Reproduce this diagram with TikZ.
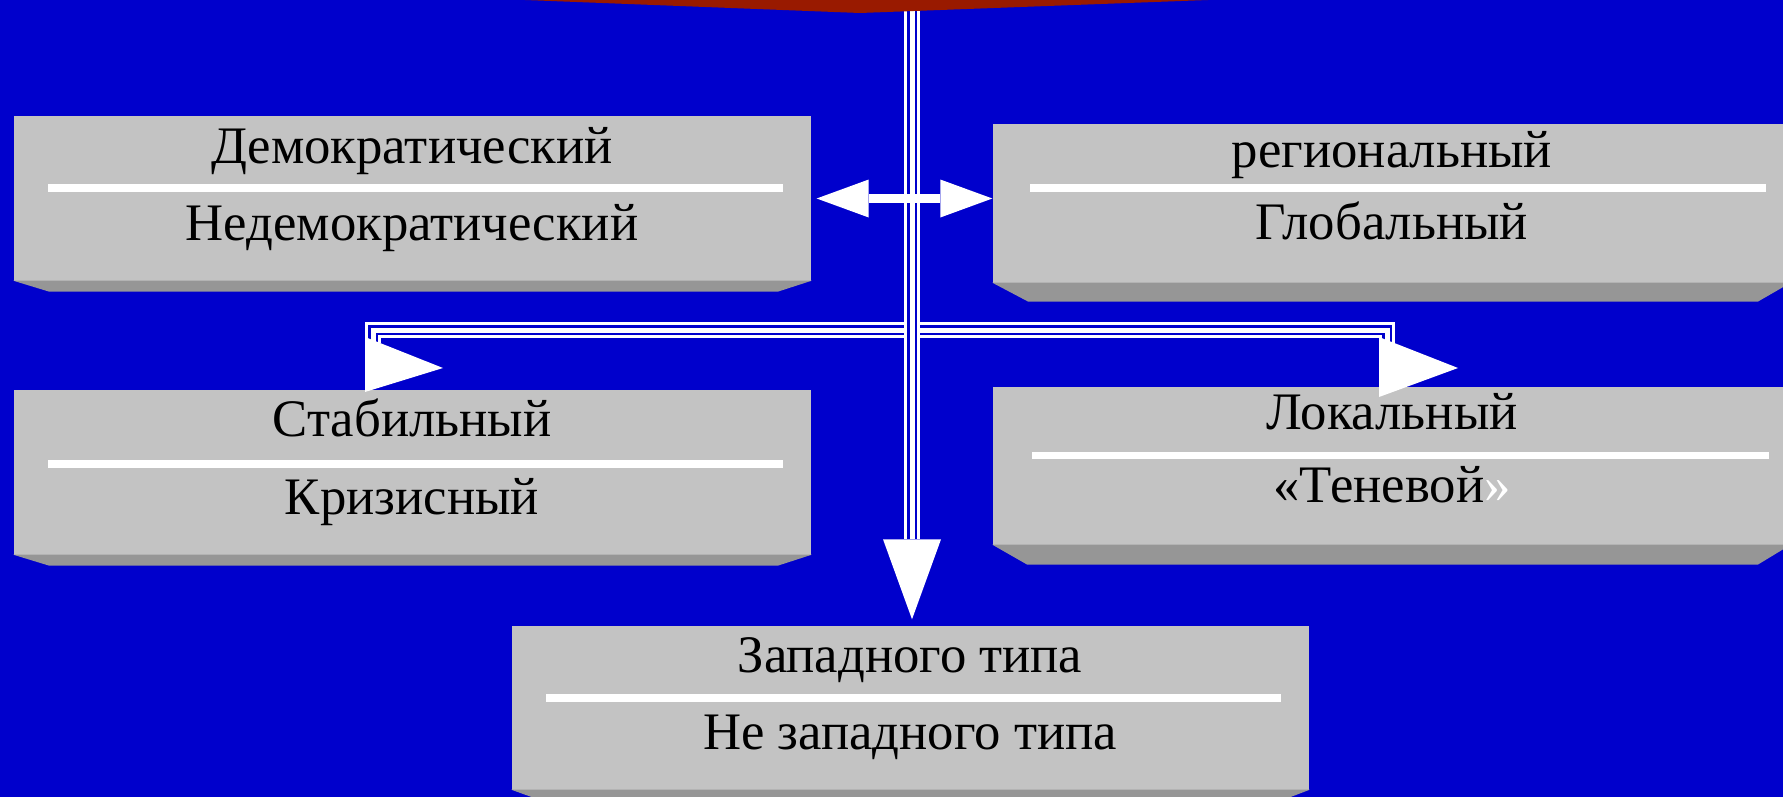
\documentclass[tikz,border=0pt]{standalone}
\usepackage{fontspec}
\setmainfont{Liberation Serif}
\usepackage{tikz}
\usetikzlibrary{arrows.meta}
\definecolor{slideblue}{RGB}{0,0,204}
\definecolor{darkred}{RGB}{153,26,0}
\definecolor{facegray}{RGB}{195,195,195}
\definecolor{edgegray}{RGB}{150,150,150}

\begin{document}
\begin{tikzpicture}[x=0.1mm, y=-0.1mm,
    boxface/.style={fill=facegray, inner sep=0pt, minimum width=79.7mm},
    bevel/.style={fill=edgegray},
    sepline/.style={draw=white, line width=0.75mm},
    boxtext/.style={anchor=base, inner sep=0pt, font=\fontsize{15pt}{18pt}\selectfont},
    outerline/.style={draw=white, line width=1.6mm, line join=miter},
    midline/.style={draw=slideblue, line width=1.05mm, line join=miter},
    innerline/.style={draw=white, line width=0.5mm, line join=miter}]
  \useasboundingbox (0,0) rectangle (1783,796);
  % slide background and title edge
  \fill[slideblue] (-20,-20) rectangle (1803,816);

  % Democratic / non-democratic
  \node[boxface, minimum height=16.5mm] (dem) at (412.5,198.5) {};
  \fill[bevel] ([yshift=0.1mm]dem.south west) -- ([yshift=0.1mm]dem.south east) -- ++(-34,11)
    -- ([shift={(36,10)}]dem.south west) -- cycle;
  \draw[sepline] (48,188) -- (783,188);
  \node[boxtext] (demtop) at (412,163) {Демократический};
  \node[boxtext] (dembot) at (412,240) {Недемократический};

  % regional / global
  \node[boxface, minimum height=15.9mm] (reg) at (1391.5,203.5) {};
  \fill[bevel] ([yshift=0.1mm]reg.south west) -- ([yshift=0.1mm]reg.south east) -- ++(-33,19)
    -- ([shift={(36,18)}]reg.south west) -- cycle;
  \draw[sepline] (1030,188) -- (1766,188);
  \node[boxtext] (regtop) at (1392,167) {региональный};
  \node[boxtext] (regbot) at (1392,239) {Глобальный};

  % stable / crisis
  \node[boxface, minimum height=16.5mm] (stab) at (412.5,472.5) {};
  \fill[bevel] ([yshift=0.1mm]stab.south west) -- ([yshift=0.1mm]stab.south east) -- ++(-34,11)
    -- ([shift={(36,10)}]stab.south west) -- cycle;
  \draw[sepline] (48,464) -- (783,464);
  \node[boxtext] (stabtop) at (412,436) {Стабильный};
  \node[boxtext] (stabbot) at (412,514) {Кризисный};

  % local / shadow
  \node[boxface, minimum height=15.8mm] (loc) at (1391.5,466) {};
  \fill[bevel] ([yshift=0.1mm]loc.south west) -- ([yshift=0.1mm]loc.south east) -- ++(-33,20)
    -- ([shift={(35,19)}]loc.south west) -- cycle;
  \draw[sepline] (1032,455.5) -- (1769,455.5);
  \node[boxtext] (loctop) at (1392,429) {Локальный};
  \node[boxtext] (locbot) at (1392,502) {«Теневой\textcolor{white}{»}};

  % western / non-western
  \node[boxface, minimum height=16.4mm] (west) at (910.5,708) {};
  \fill[bevel] ([yshift=0.1mm]west.south west) -- ([yshift=0.1mm]west.south east) -- ++(-34,13)
    -- ([shift={(36,12)}]west.south west) -- cycle;
  \draw[sepline] (546,698) -- (1281,698);
  \node[boxtext] (westtop) at (910,672) {Западного типа};
  \node[boxtext] (westbot) at (910,749) {Не западного типа};

  % connectors
  \coordinate (top) at (912,0);
  \coordinate (hmid) at (912,330);
  \coordinate (lstub) at (373,343);
  \coordinate (rstub) at (1387,343);

  \draw[outerline] (lstub) |- (hmid) -| (rstub);
  \draw[midline] (lstub) |- (hmid) -| (rstub);
  \draw[innerline] (lstub) |- (hmid) -| (rstub);
  \fill[white] (365,337) -- (443,368) -- (365,392) -- cycle;
  \fill[white] (1379,337) -- (1458,368) -- (1379,397) -- cycle;

  \draw[outerline, -{Triangle[length=8mm, width=5.8mm, line width=0pt]}, shorten >=0.6mm]
    (top) -- (top |- west.north);
  \draw[midline, shorten >=8.6mm] (top) -- (top |- west.north);
  \draw[innerline, shorten >=8.6mm] (top) -- (top |- west.north);
  \fill[darkred] (520,-20) -- (525,0) -- (860,13) -- (1208,0) -- (1212,-20) -- cycle;

  \draw[white, line width=0.9mm,
        {Triangle[length=5.2mm, width=3.8mm, line width=0pt]}-{Triangle[length=5.2mm, width=3.8mm, line width=0pt]}]
    ([xshift=0.5mm]dem.east) -- (dem.east -| reg.west);
\end{tikzpicture}
\end{document}
